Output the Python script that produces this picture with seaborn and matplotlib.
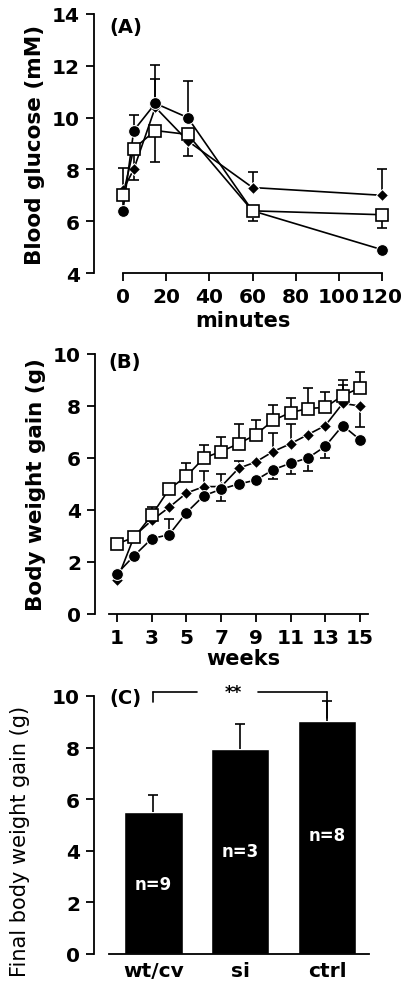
import numpy as np
import pandas as pd
import matplotlib
matplotlib.use("Agg")
import matplotlib.pyplot as plt
import seaborn as sns

sns.set_style("ticks")
plt.rcParams['font.family'] = ['DejaVu Sans']
plt.rcParams['font.weight'] = 'bold'
for k in ['text.color', 'axes.labelcolor', 'xtick.color', 'ytick.color', 'axes.edgecolor']:
    plt.rcParams[k] = 'black'

# (A) 포도당 부하 검사
minutes = [0, 5, 15, 30, 60, 120]
gluc_circle = [6.4, 9.5, 10.55, 10.0, 6.4, 4.9]
gluc_circle_up = [0.0, 0.6, 1.5, 1.4, 0.0, 0.0]
gluc_diamond = [7.2, 8.0, 10.4, 9.1, 7.3, 7.0]
gluc_diamond_up = [0.85, 0.0, 1.1, 0.0, 0.6, 1.0]
gluc_square = [7.0, 8.8, 9.5, 9.35, 6.4, 6.25]
gluc_square_dn = [0.6, 1.2, 1.2, 0.85, 0.4, 0.5]

# (B) 주별 체중 증가
weeks = list(range(1, 16))
bw_square = [2.7, 2.95, 3.8, 4.8, 5.3, 6.0, 6.25, 6.55, 6.9, 7.45, 7.75, 7.9, 7.95, 8.4, 8.7]
bw_square_up = [0.0, 0.0, 0.3, 0.0, 0.5, 0.5, 0.55, 0.75, 0.55, 0.6, 0.55, 0.8, 0.6, 0.6, 0.6]
bw_diamond = [1.3, 3.0, 3.6, 4.1, 4.65, 4.9, 4.9, 5.6, 5.85, 6.25, 6.55, 6.9, 7.25, 8.1, 8.0]
bw_diamond_up = [0.0, 0.0, 0.0, 0.0, 0.0, 0.6, 0.5, 0.3, 0.0, 0.7, 0.75, 0.0, 0.0, 0.7, 0.0]
bw_diamond_dn = [0.0, 0.0, 0.0, 0.0, 0.0, 0.0, 0.0, 0.0, 0.0, 0.0, 0.0, 0.0, 0.0, 0.0, 0.8]
bw_circle = [1.55, 2.25, 2.9, 3.05, 3.9, 4.55, 4.8, 5.0, 5.15, 5.55, 5.8, 6.0, 6.45, 7.25, 6.7]
bw_circle_up = [0.0, 0.0, 0.0, 0.6, 0.0, 0.0, 0.0, 0.0, 0.0, 0.0, 0.0, 0.0, 0.0, 0.0, 0.0]
bw_circle_dn = [0.0, 0.0, 0.0, 0.0, 0.0, 0.0, 0.45, 0.0, 0.0, 0.35, 0.4, 0.5, 0.45, 0.0, 0.0]

# (C) 최종 체중 증가
groups = ["wt/cv", "si", "ctrl"]
final_gain = [5.5, 7.95, 9.05]
final_err = [0.65, 0.95, 0.75]
n_labels = ["n=9", "n=3", "n=8"]
n_label_y = [2.7, 4.0, 4.6]

W, H = 406, 987
fig = plt.figure(figsize=(W / 100, H / 100), dpi=100)


def box(l, t, r, b):
    return [l / W, 1 - b / H, (r - l) / W, (b - t) / H]


def style_axes(ax, ybounds, xbounds):
    sns.despine(ax=ax)
    ax.spines['left'].set_bounds(*ybounds)
    ax.spines['bottom'].set_bounds(*xbounds)
    for s in ['left', 'bottom']:
        ax.spines[s].set_linewidth(1.3)
        ax.spines[s].set_color('black')
    ax.tick_params(direction='out', length=6, width=1.3, labelsize=14.5, colors='black')
    ax.tick_params(axis='y', pad=4)
    ax.tick_params(axis='x', pad=4)
    for t in ax.get_xticklabels() + ax.get_yticklabels():
        t.set_fontweight('bold')


lw = 1.2


def one_sided(ax, x, y, err, sign, z=2):
    # 한쪽 방향 오차 막대 (끝에만 캡)
    x = np.asarray(x, float)
    y = np.asarray(y, float)
    err = np.asarray(err, float)
    m = err > 0
    if not m.any():
        return
    top = y[m] + sign * err[m]
    ax.vlines(x[m], y[m], top, color='black', lw=lw, zorder=z)
    ax.plot(x[m], top, ls='none', marker='_', color='black', markersize=7,
            markeredgewidth=lw, zorder=z)


s_circ = dict(marker='o', color='black', markersize=8.5, linewidth=lw)
s_diam = dict(marker='D', color='black', markersize=6.5, linewidth=lw)
s_sq = dict(marker='s', color='black', markerfacecolor='white', markeredgecolor='black',
            markeredgewidth=1.2, markersize=9, linewidth=lw)

# ---- (A)
axA = fig.add_axes(box(94, 15, 392, 274))
one_sided(axA, minutes, gluc_diamond, gluc_diamond_up, 1)
one_sided(axA, minutes, gluc_circle, gluc_circle_up, 1)
one_sided(axA, minutes, gluc_square, gluc_square_dn, -1)
sns.lineplot(x=minutes, y=gluc_diamond, ax=axA, zorder=3, clip_on=False, **s_diam)
sns.lineplot(x=minutes, y=gluc_circle, ax=axA, zorder=4, clip_on=False, **s_circ)
sns.lineplot(x=minutes, y=gluc_square, ax=axA, zorder=5, clip_on=False, **s_sq)

axA.set_xlim(-13.4, 124.6)
axA.set_ylim(4, 14)
axA.set_xticks([0, 20, 40, 60, 80, 100, 120])
axA.set_yticks([4, 6, 8, 10, 12, 14])
style_axes(axA, (4, 14), (0, 120))
axA.set_xlabel("minutes", fontsize=15, fontweight='bold', labelpad=3)
axA.set_ylabel("Blood glucose (mM)", fontsize=15.5, fontweight='bold', labelpad=5)
axA.text(0.05, 0.95, "(A)", transform=axA.transAxes, fontsize=14, fontweight='bold',
         va='center', ha='left')

# ---- (B)
axB = fig.add_axes(box(95, 355, 392, 615))
one_sided(axB, weeks, bw_square, bw_square_up, 1)
one_sided(axB, weeks, bw_diamond, bw_diamond_up, 1)
one_sided(axB, weeks, bw_diamond, bw_diamond_dn, -1)
one_sided(axB, weeks, bw_circle, bw_circle_up, 1)
one_sided(axB, weeks, bw_circle, bw_circle_dn, -1)
sns.lineplot(x=weeks, y=bw_diamond, ax=axB, zorder=3, clip_on=False, **s_diam)
sns.lineplot(x=weeks, y=bw_circle, ax=axB, zorder=4, clip_on=False, **s_circ)
sns.lineplot(x=weeks, y=bw_square, ax=axB, zorder=5, clip_on=False, **s_sq)

axB.set_xlim(1 + (95 - 117) / 17.36, 1 + (392 - 117) / 17.36)
axB.set_ylim(0, 10)
axB.set_xticks(list(range(1, 16, 2)))
axB.set_yticks([0, 2, 4, 6, 8, 10])
style_axes(axB, (0, 10), (0.54, 15.46))
axB.set_xlabel("weeks", fontsize=15, fontweight='bold', labelpad=1)
axB.set_ylabel("Body weight gain (g)", fontsize=15.5, fontweight='bold', labelpad=5)
axB.text(0.045, 0.973, "(B)", transform=axB.transAxes, fontsize=14, fontweight='bold',
         va='center', ha='left')

# ---- (C)
axC = fig.add_axes(box(94, 697, 392, 955))
df = pd.DataFrame({"group": groups, "gain": final_gain})
sns.barplot(data=df, x="group", y="gain", ax=axC, color='black', width=0.67,
            saturation=1, errorbar=None)
one_sided(axC, range(3), final_gain, final_err, 1, z=1)
for i, (lab, yy) in enumerate(zip(n_labels, n_label_y)):
    axC.text(i, yy, lab, color='white', fontsize=12, fontweight='bold',
             ha='center', va='center')

# 유의성 브래킷
yb = 10.15
axC.plot([0, 0], [9.75, yb], color='black', lw=lw, clip_on=False)
axC.plot([0, 0.5], [yb, yb], color='black', lw=lw, clip_on=False)
axC.plot([1.2, 2.0], [yb, yb], color='black', lw=lw, clip_on=False)
axC.plot([2, 2], [yb, final_gain[2] + 0.1], color='black', lw=lw, clip_on=False)
axC.text(0.92, yb, "**", fontsize=12, fontweight='bold', ha='center', va='center')

axC.set_xlim((94 - 153.5) / 86.75, (392 - 153.5) / 86.75)
axC.set_ylim(0, 10)
axC.set_yticks([0, 2, 4, 6, 8, 10])
style_axes(axC, (0, 10), (-0.51, 2.48))
axC.tick_params(axis='x', length=0, pad=5)
axC.set_xlabel("")
axC.set_ylabel("Final body weight gain (g)", fontsize=15, fontweight='normal')
axC.yaxis.set_label_coords(-0.215, 0.44)
axC.text(0.05, 0.996, "(C)", transform=axC.transAxes, fontsize=14, fontweight='bold',
         va='center', ha='left')

fig.savefig("out.png", dpi=100)
